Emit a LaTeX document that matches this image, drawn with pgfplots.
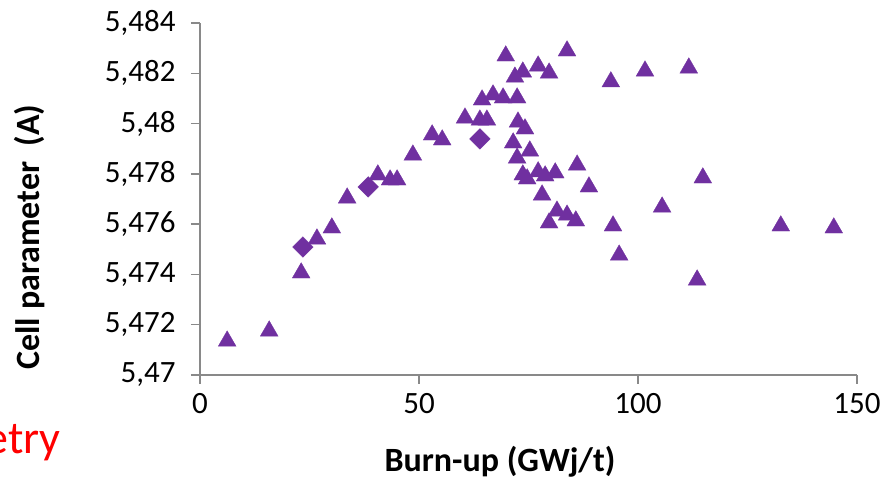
\documentclass[border=0pt]{standalone}
\usepackage{pgfplots}
\pgfplotsset{compat=1.18}
\usepackage{fontspec}
\setmainfont{Carlito}
\definecolor{mpurple}{HTML}{7030A0}
\definecolor{axgray}{HTML}{898989}
\begin{document}
\begin{tikzpicture}
\useasboundingbox (-200pt,-108pt) rectangle (680pt,375pt);
\begin{axis}[
  at={(0pt,0pt)}, anchor=south west,
  scale only axis, width=657pt, height=352pt,
  xmin=0, xmax=150, ymin=5.47, ymax=5.484,
  axis lines*=left,
  axis line style={draw=axgray, line width=1.5pt},
  tick style={draw=axgray, line width=1.5pt},
  tick align=outside, major tick length=9pt,
  xtick={0,50,100,150},
  xticklabels={0,50,100,150},
  ytick={5.47,5.472,5.474,5.476,5.478,5.48,5.482,5.484},
  yticklabels={{5,47},{5,472},{5,474},{5,476},{5,478},{5,48},{5,482},{5,484}},
  ticklabel style={font=\fontsize{31}{37}\selectfont, text=black},
  yticklabel style={xshift=-12pt},
  xticklabel style={yshift=-6pt},
  xlabel={Burn-up (GWj/t)},
  ylabel={Cell parameter\ \ (A)},
  xlabel style={font=\fontsize{34}{40}\selectfont\bfseries, at={(axis description cs:0.4566,-0.247)}, anchor=center},
  ylabel style={font=\fontsize{34}{40}\selectfont\bfseries, at={(axis description cs:-0.2588,0.392)}, anchor=center},
  clip=false,
]
\addplot[only marks, color=mpurple, mark=triangle*, mark size=10.3pt, mark options={fill=mpurple, draw=mpurple, line width=0.3pt}] coordinates {
(6.2,5.47135) (15.8,5.47175) (23.1,5.47406) (26.7,5.47541) (30.1,5.47585)
(33.6,5.47704) (40.6,5.47796) (43.4,5.47776) (45.0,5.47776) (48.6,5.47875)
(53.0,5.47955) (55.3,5.47935) (60.5,5.48022) (63.9,5.48014) (65.5,5.48014)
(64.4,5.48094) (66.9,5.48114) (69.2,5.48102) (72.4,5.48102) (69.8,5.48269)
(71.9,5.48185) (73.7,5.48205) (77.2,5.48229) (79.7,5.48201) (83.8,5.48289)
(93.8,5.48166) (101.6,5.48209) (111.6,5.48221) (72.6,5.48006) (74.2,5.47979)
(71.5,5.47923) (75.3,5.47891) (72.4,5.47863) (73.7,5.47796) (77.2,5.47808)
(78.8,5.47792) (81.1,5.47804) (74.7,5.47780) (86.1,5.47835) (78.1,5.47716)
(88.8,5.47748) (81.5,5.47652) (83.8,5.47636) (85.8,5.47613) (79.7,5.47605)
(94.3,5.47593) (105.5,5.47668) (132.6,5.47593) (144.7,5.47585) (95.7,5.47477)
(113.5,5.47378) (114.8,5.47784)
};
\addplot[only marks, color=mpurple, mark=square*, mark size=7.3pt, mark options={fill=mpurple, draw=mpurple, line width=0.3pt, rotate=45}] coordinates {
(23.5,5.47509) (38.4,5.47748) (63.9,5.47939)
};
\end{axis}
\node[anchor=base east, text=red, font=\fontsize{46}{52}\selectfont, inner sep=0pt] at (-139pt,-78pt) {etry};
\end{tikzpicture}
\end{document}
